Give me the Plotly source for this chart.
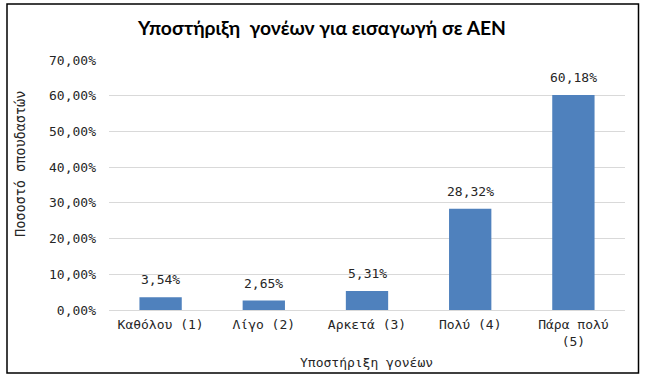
import plotly.graph_objects as go

categories = ["Καθόλου (1)", "Λίγο (2)", "Αρκετά (3)", "Πολύ (4)", "Πάρα πολύ<br>(5)"]
values = [3.54, 2.65, 5.31, 28.32, 60.18]
y_ticks = [0, 10, 20, 30, 40, 50, 60, 70]
x_title = "Υποστήριξη γονέων"
y_title = "Ποσοστό σπουδαστών"
chart_title = "Υποστήριξη  γονέων για εισαγωγή σε ΑΕΝ"

W, H = 646, 384
ml, mr, mt, mb = 109, 21, 60, 74
pw, ph = W - ml - mr, H - mt - mb

mono = "DejaVu Sans Mono"
txtc = "#262626"

def fmt(v):
    return f"{v:.2f}".replace(".", ",") + "%"

def px2x(p):
    return (p - ml) / pw

def py2y(p):
    return (H - mb - p) / ph

fig = go.Figure(go.Bar(
    x=categories, y=values,
    marker=dict(color="#4F81BD", line=dict(width=0)),
    hoverinfo="x+y",
))

for c, v in zip(categories, values):
    fig.add_annotation(x=c, y=v, text=fmt(v), showarrow=False,
                       yanchor="bottom", yshift=8,
                       font=dict(family=mono, size=13, color=txtc))

# axis titles
fig.add_annotation(xref="paper", yref="paper", x=px2x(366), y=py2y(362),
                   text=x_title, showarrow=False, xanchor="center", yanchor="middle",
                   font=dict(family=mono, size=13, color=txtc))
fig.add_annotation(xref="paper", yref="paper", x=px2x(20), y=py2y(164),
                   text=y_title, showarrow=False, textangle=-90,
                   xanchor="center", yanchor="middle",
                   font=dict(family=mono, size=13.5, color=txtc))

fig.add_shape(type="rect", xref="paper", yref="paper",
              x0=px2x(7), x1=px2x(638.5), y0=py2y(373), y1=py2y(4),
              line=dict(color="#000000", width=1.5), fillcolor="rgba(0,0,0,0)", layer="below")

fig.update_layout(
    width=W, height=H,
    margin=dict(l=ml, r=mr, t=mt, b=mb, autoexpand=False),
    paper_bgcolor="white", plot_bgcolor="white",
    bargap=0.59,
    showlegend=False,
    title=dict(text=f"<b>{chart_title}</b>",
               x=322 / W, xref="container", xanchor="center",
               y=1 - 28 / H, yref="container", yanchor="middle",
               font=dict(family="Lato", size=19.3, color="#000000")),
    xaxis=dict(
        tickfont=dict(family=mono, size=13, color=txtc),
        showline=False, showgrid=False, ticks="", zeroline=False, automargin=False,
        ticklabelstandoff=5,
    ),
    yaxis=dict(
        range=[0, 70], tickvals=y_ticks, ticktext=[fmt(t) for t in y_ticks],
        tickfont=dict(family=mono, size=13, color=txtc),
        showgrid=True, gridcolor="#D9D9D9", gridwidth=1,
        zeroline=True, zerolinecolor="#D9D9D9", zerolinewidth=1,
        showline=False, ticks="", ticklabelstandoff=12, automargin=False,
    ),
)

fig.write_html("out.html", config={"displayModeBar": False},
               post_script="document.body.style.margin='0';document.body.style.overflow='hidden';")
